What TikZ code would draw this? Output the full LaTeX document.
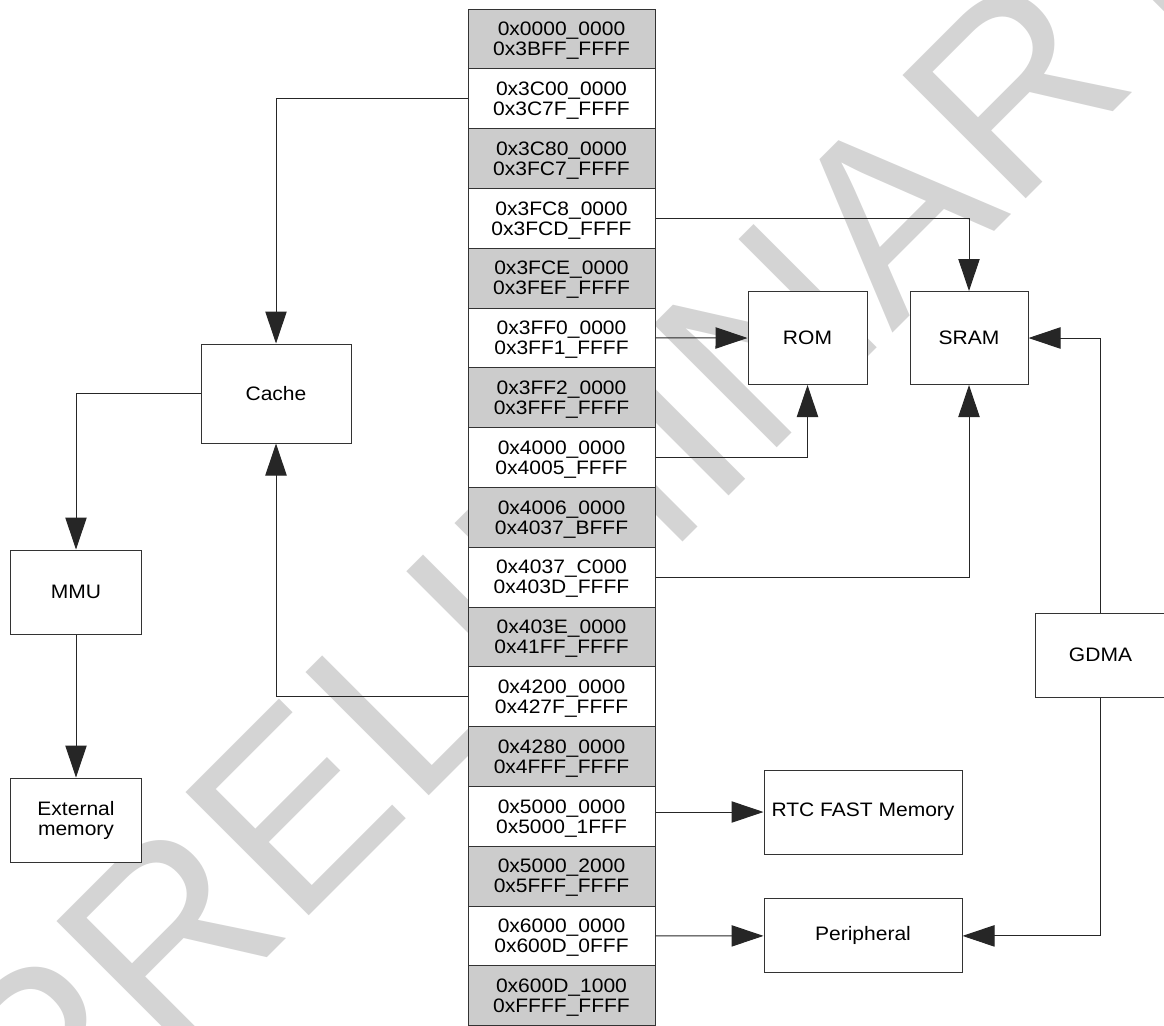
\documentclass[tikz,border=0pt]{standalone}
\usepackage{fontspec}
\setmainfont{Liberation Sans}[FakeStretch=1.08]
\newfontfamily\wmfont{Liberation Sans}
\usetikzlibrary{arrows.meta}
\begin{document}
\begin{tikzpicture}[x=0.75pt,y=-0.75pt,
  lbl/.style={font=\fontsize{14.6}{15}\selectfont},
  box/.style={lbl, draw=black!80, line width=0.75pt, fill=white, inner sep=0pt, align=center},
  mem/.style={box, text depth=0pt, minimum width=140.25pt, minimum height=44.85pt},
  conn/.style={draw=black!85, line width=0.75pt, -{Triangle[length=24pt,width=16pt]}}]
\useasboundingbox (0,0) rectangle (1164,1025);
\clip (0,0) rectangle (1164,1025);
% watermark
\node[rotate=45, font=\wmfont\fontsize{190}{190}\selectfont, text=black!17, inner sep=0pt] (wm) at (590,512) {PRELIMINARY};
% memory map
\foreach \a/\b [count=\i from 0] in {
  0x0000\_0000/0x3BFF\_FFFF, 0x3C00\_0000/0x3C7F\_FFFF, 0x3C80\_0000/0x3FC7\_FFFF,
  0x3FC8\_0000/0x3FCD\_FFFF, 0x3FCE\_0000/0x3FEF\_FFFF, 0x3FF0\_0000/0x3FF1\_FFFF,
  0x3FF2\_0000/0x3FFF\_FFFF, 0x4000\_0000/0x4005\_FFFF, 0x4006\_0000/0x4037\_BFFF,
  0x4037\_C000/0x403D\_FFFF, 0x403E\_0000/0x41FF\_FFFF, 0x4200\_0000/0x427F\_FFFF,
  0x4280\_0000/0x4FFF\_FFFF, 0x5000\_0000/0x5000\_1FFF, 0x5000\_2000/0x5FFF\_FFFF,
  0x6000\_0000/0x600D\_0FFF, 0x600D\_1000/0xFFFF\_FFFF}{
  \ifodd\i \def\rowfill{white}\else\def\rowfill{black!20}\fi
  \node[mem, fill=\rowfill] (r\i) at (561.5, {9+59.8*(\i+0.5)}) {\a\\\b};
}
% boxes
\node[box, minimum width=112.5pt, minimum height=74.25pt] (cache) at (276,393.5) {Cache};
\node[box, minimum width=98.25pt, minimum height=63pt] (mmu) at (76,592) {MMU};
\node[box, minimum width=98.25pt, minimum height=63pt] (ext) at (76,820) {External\\memory};
\node[box, minimum width=89.25pt, minimum height=69.75pt] (rom) at (807.5,338) {ROM};
\node[box, minimum width=88.5pt, minimum height=69.75pt] (sram) at (969,338) {SRAM};
\node[box, minimum width=98.25pt, minimum height=63pt] (gdma) at (1100.5,655) {GDMA};
\node[box, minimum width=148.5pt, minimum height=63pt] (rtc) at (863,812) {RTC FAST Memory};
\node[box, minimum width=148.5pt, minimum height=55.5pt] (peri) at (863,935.9) {Peripheral};
% connectors
\draw[conn] (r1.west) -| (cache.north);
\draw[conn] (r11.west) -| (cache.south);
\draw[conn] (cache.west) -| (mmu.north);
\draw[conn] (mmu.south) -- (ext.north);
\draw[conn] (r3.east) -| (sram.north);
\draw[conn] (r5.east) -- (rom.west);
\draw[conn] (r7.east) -| (rom.south);
\draw[conn] (r9.east) -| (sram.south);
\draw[conn] (gdma.north) |- (sram.east);
\draw[conn] (gdma.south) |- (peri.east);
\draw[conn] (r13.east |- rtc.west) -- (rtc.west);
\draw[conn] (r15.east) -- (peri.west);
\end{tikzpicture}
\end{document}
